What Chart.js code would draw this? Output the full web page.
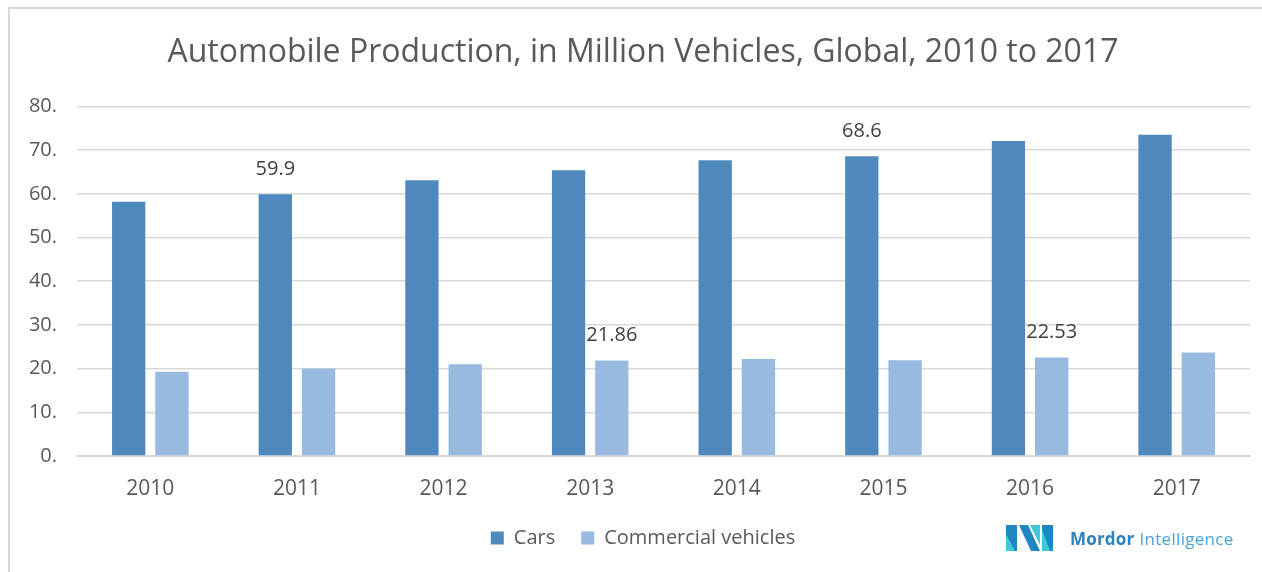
<!DOCTYPE html>
<html>
<head>
<meta charset="utf-8">
<script src="https://cdn.jsdelivr.net/npm/chart.js@4/dist/chart.umd.min.js"></script>
<style>
  html, body { margin: 0; padding: 0; background: #fff; }
  #wrap { position: relative; width: 1262px; height: 572px; overflow: hidden; }
  #frame { position: absolute; left: 8px; top: 7px; right: -4px; bottom: -4px;
           border-left: 2px solid #d9d9d9; border-top: 2px solid #d9d9d9; }
  #brand { position: absolute; left: 1006px; top: 525px; height: 26px;
           display: flex; align-items: center; font-family: "Open Sans", sans-serif; }
  #brand svg { margin-right: 17px; }
  #brand .m { color: #2d82bd; font-weight: 700; font-size: 17px; letter-spacing: 0.2px; }
  #brand .i { color: #4aa3d8; font-size: 17px; margin-left: 5px; letter-spacing: 0.3px; }
</style>
</head>
<body>
<div id="wrap">
  <div id="frame"></div>
  <canvas id="chart" width="1262" height="572"></canvas>
  <div id="brand">
    <svg width="47" height="26" viewBox="0 0 47 26">
      <polygon points="0,0 11,0 11,26 0,26" fill="#1f86c0"/>
      <polygon points="0,9 9,26 0,26" fill="#3fc8d8"/>
      <polygon points="13,0 22,0 34,26 25,26" fill="#1f86c0"/>
      <polygon points="24,0 34,0 34,20" fill="#3fc8d8"/>
      <polygon points="36,0 47,0 47,26 36,26" fill="#1f86c0"/>
      <polygon points="36,4 44,26 36,26" fill="#3fc8d8"/>
    </svg>
    <span class="m">Mordor</span><span class="i">Intelligence</span>
  </div>
</div>
<script>
const years = ["2010", "2011", "2012", "2013", "2014", "2015", "2016", "2017"];
const cars = [58.2, 59.9, 63.1, 65.4, 67.7, 68.6, 72.1, 73.5];
const commercial = [19.3, 20.0, 21.0, 21.86, 22.2, 21.9, 22.53, 23.7];
const carsLabelled = [false, true, false, false, false, true, false, false];
const commercialLabelled = [false, false, false, true, false, false, true, false];
const yTicks = ["0.", "10.", "20.", "30.", "40.", "50.", "60.", "70.", "80."];

const font = "'Open Sans', sans-serif";
const grey = "#595959";

// value labels only on a few bars, like the original
const valueLabels = {
    id: "valueLabels",
    afterDatasetsDraw(chart) {
        const ctx = chart.ctx;
        const flags = [carsLabelled, commercialLabelled];
        ctx.save();
        ctx.font = "20px " + font;
        ctx.fillStyle = "#404040";
        ctx.textAlign = "center";
        ctx.textBaseline = "middle";
        chart.data.datasets.forEach((ds, d) => {
            chart.getDatasetMeta(d).data.forEach((bar, i) => {
                if (flags[d][i]) ctx.fillText(String(ds.data[i]), bar.x, bar.y - 25);
            });
        });
        ctx.restore();
    },
};

new Chart(document.getElementById("chart"), {
    type: "bar",
    data: {
        labels: years,
        datasets: [
            { label: "Cars", data: cars, backgroundColor: "#4f88bc",
              categoryPercentage: 0.59, barPercentage: 0.77 },
            { label: "Commercial vehicles", data: commercial, backgroundColor: "#98b9e0",
              categoryPercentage: 0.59, barPercentage: 0.77 },
        ],
    },
    options: {
        responsive: false,
        animation: false,
        layout: { padding: { left: 24, right: 0, top: 0, bottom: 14 } },
        plugins: {
            title: {
                display: true,
                text: "Automobile Production, in Million Vehicles, Global, 2010 to 2017",
                color: grey,
                font: { family: font, size: 32, weight: "normal" },
                padding: { top: 34, bottom: 34 },
            },
            legend: {
                position: "bottom",
                labels: {
                    color: grey,
                    font: { family: font, size: 20 },
                    boxWidth: 13,
                    boxHeight: 13,
                    padding: 26,
                },
            },
            tooltip: { enabled: false },
        },
        scales: {
            x: {
                grid: { display: false, drawTicks: false },
                border: { color: "#d9d9d9", width: 2 },
                ticks: { color: grey, font: { family: font, size: 21 }, padding: 20 },
                afterFit: (s) => { s.height = 46; },
            },
            y: {
                min: 0,
                max: 80,
                grid: { color: "#d9d9d9", lineWidth: 1.5, drawTicks: false },
                border: { display: false },
                ticks: {
                    stepSize: 10,
                    color: grey,
                    font: { family: font, size: 20 },
                    padding: 20,
                    callback: (v, i) => yTicks[i],
                },
                afterFit: (s) => { s.width = 77 - 24; },
            },
            // empty axis on the right only keeps the plot clear of the frame edge
            spacer: {
                type: "linear",
                position: "right",
                grid: { display: false, drawTicks: false },
                border: { display: false },
                ticks: { display: false },
                afterFit: (s) => { s.width = 12; },
            },
        },
    },
    plugins: [valueLabels],
});
</script>
</body>
</html>
